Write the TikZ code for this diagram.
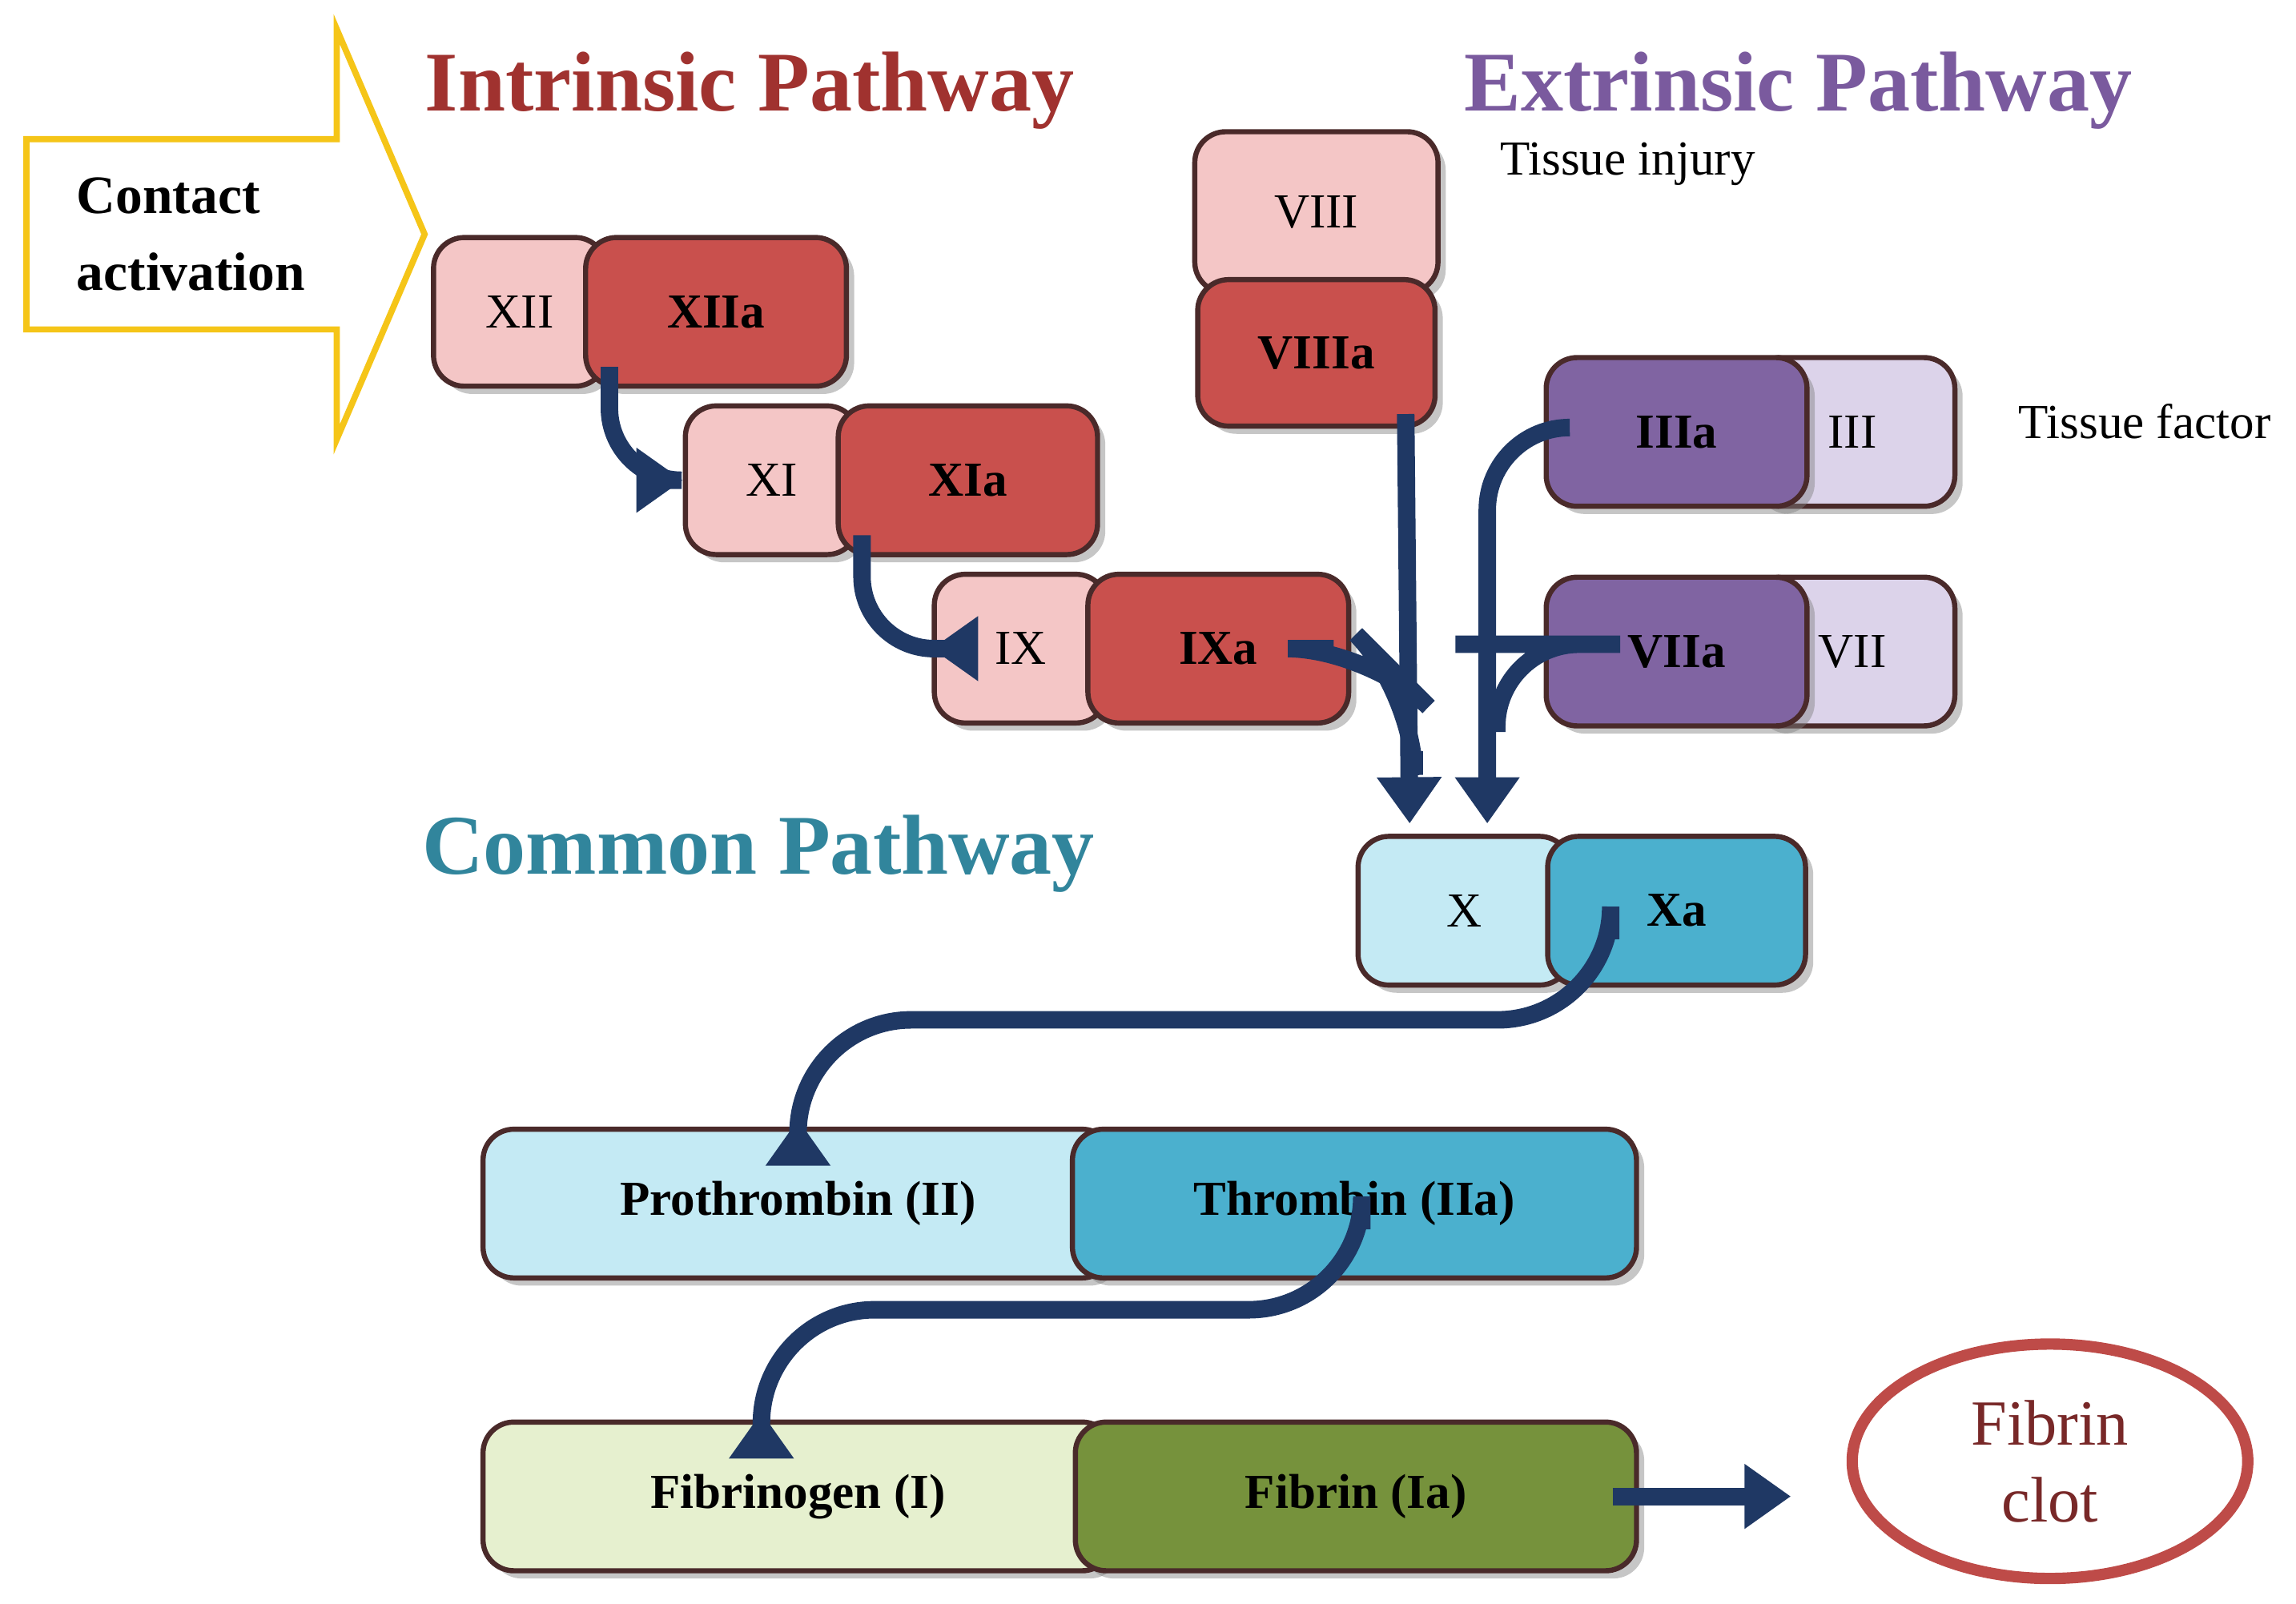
\documentclass[tikz,border=0pt]{standalone}
\usepackage{fontspec}
\setmainfont{Liberation Serif}
\usetikzlibrary{arrows.meta,calc,shadows,shapes.geometric}
\definecolor{navy}{HTML}{1F3864}
\definecolor{redL}{HTML}{F4C6C6}
\definecolor{redD}{HTML}{C9504D}
\definecolor{purL}{HTML}{DCD3EA}
\definecolor{purD}{HTML}{8064A2}
\definecolor{cyaL}{HTML}{C4EAF4}
\definecolor{cyaD}{HTML}{4BB0CE}
\definecolor{grnL}{HTML}{E6F0CF}
\definecolor{grnD}{HTML}{76923C}
\definecolor{edge}{HTML}{4A2A2A}
\definecolor{ttlR}{HTML}{A0322F}
\definecolor{ttlP}{HTML}{7A5A9E}
\definecolor{ttlC}{HTML}{31859C}
\begin{document}
\begin{tikzpicture}[x=0.01cm,y=-0.01cm]
          % Define styles
          \tikzset{box/.style={draw=edge, line width=1pt, rounded corners=6pt, minimum height=2.9cm*0.35,
                    inner sep=0pt, font=\fontsize{9.5}{11}\selectfont,
                    drop shadow={shadow xshift=1.5pt, shadow yshift=-1.5pt, opacity=.45}},
                   act/.style={box, font=\fontsize{9.5}{11}\selectfont\bfseries},
                   flow/.style={navy, line width=3.4pt, -{Triangle[length=9pt,width=12pt]}},
                   title/.style={font=\fontsize{16.5}{18}\selectfont\bfseries}}
          \useasboundingbox (0,0) rectangle (1568,1095);

          % Titles
          \node[title, text=ttlR] (tIn) at (512,62) {Intrinsic Pathway};
          \node[title, text=ttlP] (tEx) at (1228,62) {Extrinsic Pathway};
          \node[title, text=ttlC] (tCo) at (518,583) {Common Pathway};
          \node[font=\fontsize{9.5}{11}\selectfont, anchor=west] (inj) at (1012,112) {Tissue injury};
          \node[font=\fontsize{9.5}{11}\selectfont, anchor=west] (tf) at (1366,288) {Tissue factor};

          % Contact activation
          \draw[draw={rgb,255:red,245;green,197;blue,24}, fill=white, line width=1.2pt]
               (18,95) -- (230,95) -- (230,20) -- (290,160) -- (230,300) -- (230,225) -- (18,225) -- cycle;
          \node[anchor=west, align=left, font=\fontsize{10.5}{15}\selectfont\bfseries] (ca) at (40,160) {Contact\\activation};

          % Intrinsic boxes
          \node[box, fill=redL, minimum width=3.1cm*0.38] (XII) at (355,213) {XII};
          \node[act, fill=redD, minimum width=1.78cm] (XIIa) at (489,213) {XIIa};
          \node[box, fill=redL, minimum width=3.1cm*0.38] (XI) at (527,328) {XI};
          \node[act, fill=redD, minimum width=1.77cm] (XIa) at (661,328) {XIa};
          \node[box, fill=redL, minimum width=3.1cm*0.38] (IX) at (697,443) {IX};
          \node[act, fill=redD, minimum width=1.78cm] (IXa) at (832,443) {IXa};
          \node[box, fill=redL, minimum width=1.66cm, minimum height=1.1cm] (VIII) at (899,145) {VIII};
          \node[act, fill=redD, minimum width=1.62cm, minimum height=1cm] (VIIIa) at (899,241) {VIIIa};

          % Extrinsic boxes
          \node[box, fill=purL, minimum width=1.4cm] (III) at (1265,295) {III};
          \node[act, fill=purD, minimum width=1.78cm] (IIIa) at (1145,295) {IIIa};
          \node[box, fill=purL, minimum width=1.4cm] (VII) at (1265,445) {VII};
          \node[act, fill=purD, minimum width=1.78cm] (VIIa) at (1145,445) {VIIa};

          % Common boxes
          \node[box, fill=cyaL, minimum width=1.45cm] (X) at (1000,622) {X};
          \node[act, fill=cyaD, minimum width=1.76cm] (Xa) at (1145,622) {Xa};
          \node[act, fill=cyaL, minimum width=4.3cm] (Pro) at (545,822) {Prothrombin (II)};
          \node[act, fill=cyaD, minimum width=3.85cm] (Thr) at (925,822) {Thrombin (IIa)};
          \node[act, fill=grnL, minimum width=4.3cm] (Fbg) at (545,1022) {Fibrinogen (I)};
          \node[act, fill=grnD, minimum width=3.83cm] (Fib) at (926,1022) {Fibrin (Ia)};
          \node[ellipse, draw={rgb,255:red,190;green,75;blue,72}, line width=2.2pt, fill=white,
                minimum width=2.7cm, minimum height=1.6cm, align=center, text={rgb,255:red,120;green,40;blue,40},
                font=\fontsize{12.5}{15}\selectfont] (clot) at (1400,998) {Fibrin\\clot};

          % Cascade arrows
          \draw[flow, rounded corners=14pt] ($(XIIa.south west)+(18,-15)$) |- (XI.west);
          \draw[flow, rounded corners=14pt] ($(XIa.south west)+(18,-15)$) |- (IX.west);
          \draw[flow] ($(VIIIa.south)+(61,-10)$) -- ($(X.north west)+(37,-7)$);
          \draw[navy, line width=3.4pt, rounded corners=16pt] ($(IXa.east)+(-12,0)$) -- ++(25,0) -- ++(30,30) -- ++(0,40);
          \draw[flow, rounded corners=16pt] ($(IIIa.west)+(16,-3)$) -| ($(X.north west)+(90,-7)$);
          \draw[navy, line width=3.4pt, rounded corners=16pt] ($(VIIa.west)+(16,-5)$) -- ++(-20,0) -| ++(-28,60);
          \draw[flow, rounded corners=22pt] ($(Xa.south)+(-45,-33)$) -- ++(0,55) -| ($(Pro.north)+(0,-5)$);
          \draw[flow, rounded corners=22pt] ($(Thr.south)+(5,-35)$) -- ++(0,55) -| ($(Fbg.north)+(-25,-5)$);
          \draw[flow] ($(Fib.east)+(-18,0)$) -- ($(clot.west)+(-38,24)$);
\end{tikzpicture}
\end{document}
